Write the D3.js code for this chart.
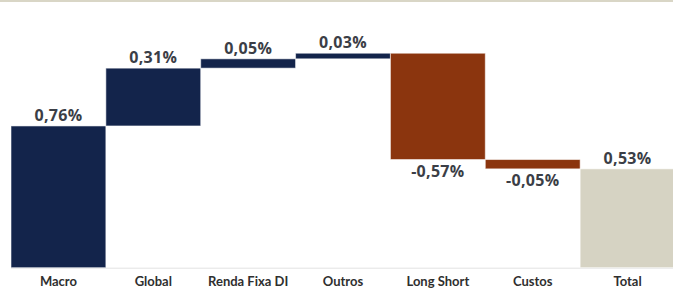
<!DOCTYPE html>
<html>
<head>
<meta charset="utf-8">
<script src="https://cdn.jsdelivr.net/npm/d3@7"></script>
<style>
  body { margin: 0; background: #fff; }
  svg { display: block; }
  .val { font-family: "Open Sans", sans-serif; font-weight: 700; font-size: 16px; fill: #3b3e46; letter-spacing: 0.3px; }
  .axis text { font-family: Lato, sans-serif; font-weight: 700; font-size: 13px; fill: #2f2f2f; }
</style>
</head>
<body>
<div id="chart"></div>
<script>
var categories = ["Macro", "Global", "Renda Fixa DI", "Outros", "Long Short", "Custos", "Total"];
var values = [0.76, 0.31, 0.05, 0.03, -0.57, -0.05, 0.53];
var labels = ["0,76%", "0,31%", "0,05%", "0,03%", "-0,57%", "-0,05%", "0,53%"];
var totalIndex = 6;

var fullWidth = 673;
var fullHeight = 290;

var colors = { pos: "#13244b", neg: "#8b350e", total: "#d6d3c3" };

// build waterfall steps
var rows = [];
var running = 0;
categories.forEach(function (c, i) {
    var start, end;
    if (i === totalIndex) {
        start = 0; end = values[i];
    } else {
        start = running; end = running + values[i]; running = end;
    }
    rows.push({ cat: c, start: start, end: end, value: values[i], label: labels[i], total: i === totalIndex });
});

var x = d3.scaleBand()
    .domain(categories)
    .range([11, 675])
    .padding(0);

var y = d3.scaleLinear()
    .domain([0, 1])
    .range([267.7, 267.7 - 186.5]);

var svg = d3.select("#chart").append("svg")
    .attr("width", fullWidth)
    .attr("height", fullHeight);

// top border line
svg.append("rect")
    .attr("x", 0).attr("y", 0)
    .attr("width", fullWidth).attr("height", 2)
    .attr("fill", "#d9d6c6");

// baseline
svg.append("line")
    .attr("x1", 11).attr("x2", fullWidth)
    .attr("y1", y(0) + 0.5).attr("y2", y(0) + 0.5)
    .attr("stroke", "#e2e2e2");

svg.selectAll(".bar")
    .data(rows)
    .enter().append("rect")
    .attr("class", "bar")
    .attr("x", d => x(d.cat))
    .attr("width", x.bandwidth())
    .attr("y", d => y(Math.max(d.start, d.end)))
    .attr("height", d => Math.abs(y(d.start) - y(d.end)))
    .attr("fill", d => d.total ? colors.total : (d.value >= 0 ? colors.pos : colors.neg))
    .attr("stroke", "rgba(255,255,255,0.55)")
    .attr("stroke-width", 1);

svg.selectAll(".val")
    .data(rows)
    .enter().append("text")
    .attr("class", "val")
    .attr("text-anchor", "middle")
    .attr("x", d => x(d.cat) + x.bandwidth() / 2)
    .attr("y", d => d.value >= 0 ? y(d.end) - 5 : y(d.end) + 17)
    .text(d => d.label);

var xAxis = d3.axisBottom(x).tickSize(0).tickPadding(0);

svg.append("g")
    .attr("class", "axis")
    .attr("transform", "translate(0," + 281.5 + ")")
    .call(xAxis)
    .call(g => g.select(".domain").remove())
    .selectAll("text")
    .attr("dy", "0.32em");
</script>
</body>
</html>
